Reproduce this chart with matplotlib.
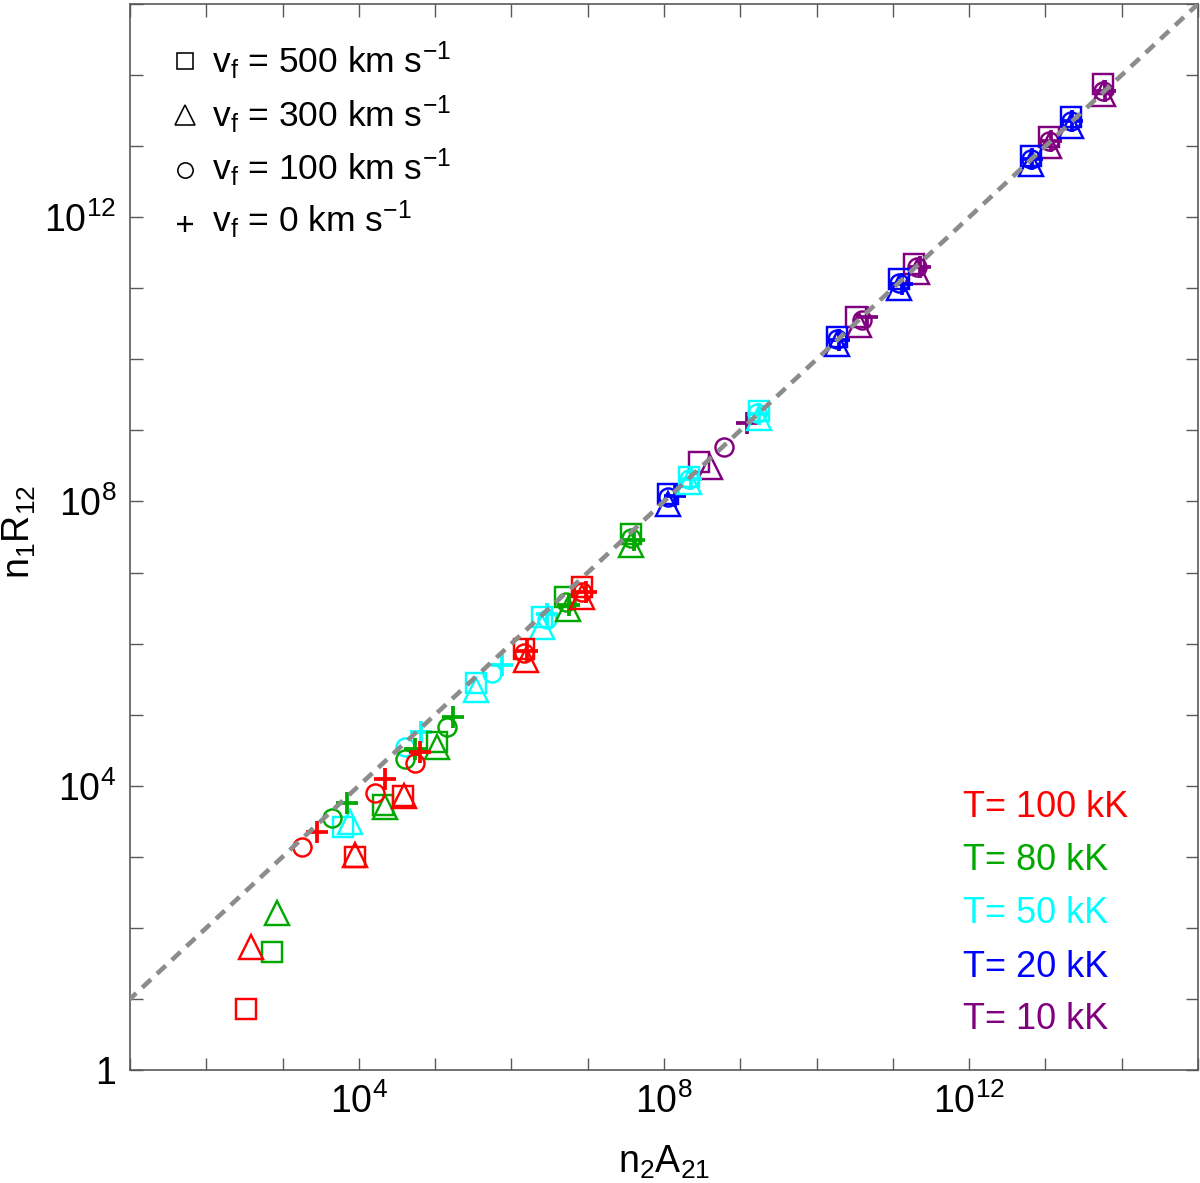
import numpy as np
import matplotlib
matplotlib.use("Agg")
import matplotlib.pyplot as plt

plt.rcParams['font.family'] = ['Liberation Sans', 'DejaVu Sans']
plt.rcParams['mathtext.fontset'] = 'custom'
plt.rcParams['mathtext.rm'] = 'Liberation Sans'
plt.rcParams['mathtext.it'] = 'Liberation Sans:italic'
plt.rcParams['mathtext.bf'] = 'Liberation Sans:bold'

# log10 values
# rows: vf = 500, 300, 100, 0 km/s ; columns: five transitions
lx_100 = [[2.52, 3.95, 4.58, 6.17, 6.92],
          [2.58, 3.95, 4.59, 6.19, 6.93],
          [3.25, 4.21, 4.73, 6.17, 6.93],
          [3.45, 4.34, 4.80, 6.21, 6.98]]
ly_100 = [[0.86, 3.00, 3.86, 5.92, 6.79],
          [1.73, 3.02, 3.85, 5.77, 6.65],
          [3.14, 3.90, 4.32, 5.87, 6.73],
          [3.35, 4.10, 4.48, 5.89, 6.72]]

lx_80 = [[2.86, 4.31, 5.02, 6.70, 7.57],
         [2.93, 4.34, 5.02, 6.74, 7.57],
         [3.65, 4.60, 5.15, 6.72, 7.57],
         [3.84, 4.73, 5.23, 6.76, 7.61]]
ly_80 = [[1.66, 3.73, 4.62, 6.65, 7.54],
         [2.21, 3.70, 4.55, 6.48, 7.39],
         [3.55, 4.37, 4.83, 6.59, 7.49],
         [3.76, 4.52, 4.97, 6.55, 7.46]]

lx_50 = [[3.79, 5.54, 6.40, 8.33, 9.24],
         [3.88, 5.54, 6.40, 8.33, 9.24],
         [4.60, 5.74, 6.46, 8.33, 9.22],
         [4.82, 5.87, 6.47, 8.36, 9.25]]
ly_50 = [[3.42, 5.45, 6.37, 8.35, 9.27],
         [3.49, 5.35, 6.23, 8.27, 9.18],
         [4.55, 5.59, 6.34, 8.31, 9.24],
         [4.76, 5.70, 6.41, 8.32, 9.23]]

lx_20 = [[8.05, 10.27, 11.08, 12.81, 13.34],
         [8.05, 10.27, 11.08, 12.81, 13.34],
         [8.05, 10.27, 11.08, 12.81, 13.34],
         [8.14, 10.30, 11.12, 12.83, 13.35]]
ly_20 = [[8.10, 10.32, 11.13, 12.86, 13.41],
         [7.96, 10.21, 11.01, 12.75, 13.28],
         [8.06, 10.28, 11.08, 12.82, 13.35],
         [8.07, 10.27, 11.06, 12.82, 13.35]]

lx_10 = [[8.46, 10.52, 11.28, 13.05, 13.76],
         [8.60, 10.56, 11.31, 13.05, 13.76],
         [8.78, 10.60, 11.31, 13.05, 13.76],
         [9.09, 10.66, 11.35, 13.07, 13.78]]
ly_10 = [[8.55, 10.59, 11.34, 13.13, 13.87],
         [8.48, 10.49, 11.23, 13.00, 13.73],
         [8.77, 10.56, 11.30, 13.07, 13.77],
         [9.11, 10.59, 11.30, 13.07, 13.77]]

temps = ['100', '80', '50', '20', '10']
colors = ['#ff0000', '#00a800', '#00ffff', '#0000ff', '#800080']
vf_labels = ['500', '300', '100', '0']
markers = ['s', '^', 'o', '+']
msizes = [14, 17, 13, 16]

all_x = [lx_100, lx_80, lx_50, lx_20, lx_10]
all_y = [ly_100, ly_80, ly_50, ly_20, ly_10]

fig = plt.figure(figsize=(12, 11.83), dpi=100)
ax = fig.add_axes([130/1200, 1 - 1070/1183, 1068/1200, 1066/1183])

# draw from coolest to hottest so red sits on top
for i in range(4, -1, -1):
    for j in range(4):
        ax.plot(10**np.array(all_x[i][j]), 10**np.array(all_y[i][j]),
                linestyle='none', marker=markers[j], markersize=msizes[j],
                markerfacecolor='none', markeredgecolor=colors[i],
                markeredgewidth=2.7 if markers[j] == '+' else 1.75, zorder=3)

line = np.array([1e0, 1e16])
ax.plot(line, line, color='#8c8c8c', linewidth=3.3, linestyle=(0, (2.6, 1.8)), zorder=4)

ax.set_xscale('log')
ax.set_yscale('log')
ax.set_xlim(1e1, 1e15)
ax.set_ylim(1e0, 1e15)

ax.set_xticks([1e4, 1e8, 1e12])
ax.set_xticklabels([r'$10^{4}$', r'$10^{8}$', r'$10^{12}$'])
ax.set_yticks([1e0, 1e4, 1e8, 1e12])
ax.set_yticklabels(['1', r'$10^{4}$', r'$10^{8}$', r'$10^{12}$'])
ax.set_xticks([10.0**k for k in range(1, 16) if k % 4 != 0], minor=True)
ax.set_yticks([10.0**k for k in range(0, 16) if k % 4 != 0], minor=True)
ax.xaxis.set_minor_formatter(plt.NullFormatter())
ax.yaxis.set_minor_formatter(plt.NullFormatter())
ax.tick_params(which='both', direction='in', length=9, width=1, color='0.35',
               top=True, right=True, labelsize=27, pad=10)

for sp in ax.spines.values():
    sp.set_color('0.35')
    sp.set_linewidth(1.2)

ax.set_xlabel(r'n$_2$A$_{21}$', fontsize=27, labelpad=16)
ax.set_ylabel(r'n$_1$R$_{12}$', fontsize=27)
ax.yaxis.set_label_coords(-0.086, 0.505)

# velocity key
key_marker_y = [0.9466, 0.8959, 0.8443, 0.7936]
key_text_y = [0.9353, 0.8846, 0.8349, 0.7861]
key_ms = [11, 14, 11, 12]
for j in range(4):
    ax.plot([0.0515], [key_marker_y[j]], transform=ax.transAxes, linestyle='none',
            marker=markers[j], markersize=key_ms[j], markerfacecolor='none',
            markeredgecolor='black', markeredgewidth=1.7 if markers[j] == '+' else 1.15)
    ax.text(0.0768, key_text_y[j], r'v$_\mathrm{f}$ = ' + vf_labels[j] + r' km s$^{-1}$',
            transform=ax.transAxes, fontsize=25.5, va='baseline', ha='left')

# temperature key
t_text_y = [0.2373, 0.1876, 0.1379, 0.0872, 0.0385]
for i in range(5):
    ax.text(0.780, t_text_y[i], 'T= ' + temps[i] + ' kK', color=colors[i],
            transform=ax.transAxes, fontsize=26, va='baseline', ha='left')

fig.savefig('out.png', dpi=100)
